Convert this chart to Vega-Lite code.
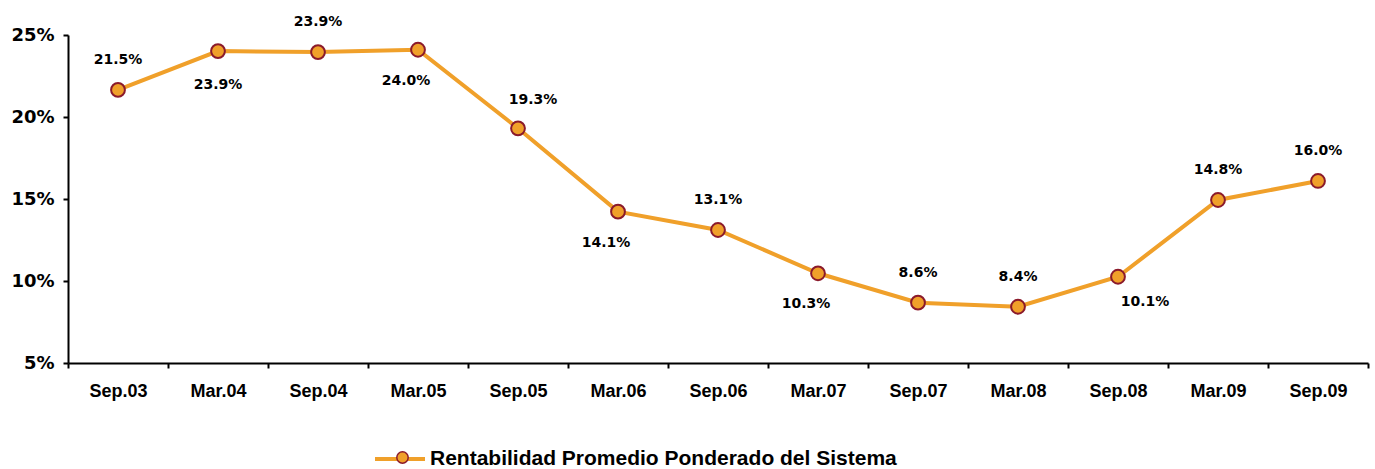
{
  "$schema": "https://vega.github.io/schema/vega-lite/v6.json",
  "width": 1300,
  "height": 328,
  "autosize": {"type": "none"},
  "padding": {"left": 68, "top": 35, "right": 7, "bottom": 106},
  "background": "white",
  "config": {
    "view": {"stroke": null},
    "axis": {"domainColor": "black", "domainWidth": 2, "tickColor": "black", "tickWidth": 2, "tickSize": 5, "grid": false, "title": null, "labelColor": "black"}
  },
  "data": {
    "values": [
      {"periodo": "Sep.03", "valor": 21.65, "etiqueta": "21.5%", "serie": "Rentabilidad Promedio Ponderado del Sistema", "marcador": "m"},
      {"periodo": "Mar.04", "valor": 24.02, "etiqueta": "23.9%", "serie": "Rentabilidad Promedio Ponderado del Sistema", "marcador": "m"},
      {"periodo": "Sep.04", "valor": 23.96, "etiqueta": "23.9%", "serie": "Rentabilidad Promedio Ponderado del Sistema", "marcador": "m"},
      {"periodo": "Mar.05", "valor": 24.1, "etiqueta": "24.0%", "serie": "Rentabilidad Promedio Ponderado del Sistema", "marcador": "m"},
      {"periodo": "Sep.05", "valor": 19.31, "etiqueta": "19.3%", "serie": "Rentabilidad Promedio Ponderado del Sistema", "marcador": "m"},
      {"periodo": "Mar.06", "valor": 14.23, "etiqueta": "14.1%", "serie": "Rentabilidad Promedio Ponderado del Sistema", "marcador": "m"},
      {"periodo": "Sep.06", "valor": 13.11, "etiqueta": "13.1%", "serie": "Rentabilidad Promedio Ponderado del Sistema", "marcador": "m"},
      {"periodo": "Mar.07", "valor": 10.47, "etiqueta": "10.3%", "serie": "Rentabilidad Promedio Ponderado del Sistema", "marcador": "m"},
      {"periodo": "Sep.07", "valor": 8.68, "etiqueta": "8.6%", "serie": "Rentabilidad Promedio Ponderado del Sistema", "marcador": "m"},
      {"periodo": "Mar.08", "valor": 8.43, "etiqueta": "8.4%", "serie": "Rentabilidad Promedio Ponderado del Sistema", "marcador": "m"},
      {"periodo": "Sep.08", "valor": 10.26, "etiqueta": "10.1%", "serie": "Rentabilidad Promedio Ponderado del Sistema", "marcador": "m"},
      {"periodo": "Mar.09", "valor": 14.94, "etiqueta": "14.8%", "serie": "Rentabilidad Promedio Ponderado del Sistema", "marcador": "m"},
      {"periodo": "Sep.09", "valor": 16.1, "etiqueta": "16.0%", "serie": "Rentabilidad Promedio Ponderado del Sistema", "marcador": "m"}
    ]
  },
  "encoding": {
    "x": {
      "field": "periodo", "type": "nominal", "sort": null,
      "scale": {"type": "band", "paddingInner": 0, "paddingOuter": 0},
      "axis": {"labelAngle": 0, "tickBand": "extent", "labelFont": "Liberation Sans", "labelFontWeight": "bold", "labelFontSize": 18, "labelPadding": 14}
    },
    "y": {
      "field": "valor", "type": "quantitative",
      "scale": {"domain": [5, 25], "nice": false, "zero": false},
      "axis": {"values": [5, 10, 15, 20, 25], "labelExpr": "datum.value + '%'", "labelFont": "DejaVu Sans", "labelFontWeight": "bold", "labelFontSize": 18, "labelPadding": 9}
    }
  },
  "layer": [
    {
      "mark": {"type": "line", "strokeWidth": 4},
      "encoding": {
        "color": {
          "field": "serie", "type": "nominal",
          "scale": {"range": ["#F0A02A"]},
          "legend": {"orient": "none", "legendX": 305, "legendY": 397, "title": null, "padding": 0, "symbolType": "stroke", "symbolStrokeWidth": 4, "symbolSize": 2500, "labelFont": "Liberation Sans", "labelFontWeight": "bold", "labelFontSize": 21, "labelColor": "black", "labelOffset": 3, "labelLimit": 700}
        }
      }
    },
    {
      "mark": {"type": "point", "filled": true, "fill": "#F0A02A", "stroke": "#8B1A2B", "strokeWidth": 2, "size": 190, "opacity": 1},
      "encoding": {
        "shape": {
          "field": "marcador", "type": "nominal",
          "scale": {"range": ["circle"]},
          "legend": {"orient": "none", "legendX": 325, "legendY": 413, "title": null, "padding": 0, "symbolSize": 130, "labelExpr": "''", "labelFontSize": 19,
            "encode": {"symbols": {"update": {"fill": {"value": "#F0A02A"}, "stroke": {"value": "#A8401E"}, "strokeWidth": {"value": 2}, "opacity": {"value": 1}}}}}
        }
      }
    },
    {
      "transform": [{"filter": {"field": "periodo", "oneOf": ["Sep.03", "Sep.04", "Sep.06", "Sep.07", "Mar.08", "Mar.09", "Sep.09"]}}],
      "mark": {"type": "text", "dy": -30, "baseline": "middle", "align": "center", "font": "DejaVu Sans", "fontWeight": "bold", "fontSize": 14, "color": "black"},
      "encoding": {"text": {"field": "etiqueta"}}
    },
    {
      "transform": [{"filter": {"field": "periodo", "oneOf": ["Sep.05"]}}],
      "mark": {"type": "text", "dy": -28, "dx": 15, "baseline": "middle", "align": "center", "font": "DejaVu Sans", "fontWeight": "bold", "fontSize": 14, "color": "black"},
      "encoding": {"text": {"field": "etiqueta"}}
    },
    {
      "transform": [{"filter": {"field": "periodo", "oneOf": ["Mar.04"]}}],
      "mark": {"type": "text", "dy": 34, "baseline": "middle", "align": "center", "font": "DejaVu Sans", "fontWeight": "bold", "fontSize": 14, "color": "black"},
      "encoding": {"text": {"field": "etiqueta"}}
    },
    {
      "transform": [{"filter": {"field": "periodo", "oneOf": ["Mar.05", "Mar.06", "Mar.07"]}}],
      "mark": {"type": "text", "dy": 31, "dx": -12, "baseline": "middle", "align": "center", "font": "DejaVu Sans", "fontWeight": "bold", "fontSize": 14, "color": "black"},
      "encoding": {"text": {"field": "etiqueta"}}
    },
    {
      "transform": [{"filter": {"field": "periodo", "oneOf": ["Sep.08"]}}],
      "mark": {"type": "text", "dy": 25, "dx": 27, "baseline": "middle", "align": "center", "font": "DejaVu Sans", "fontWeight": "bold", "fontSize": 14, "color": "black"},
      "encoding": {"text": {"field": "etiqueta"}}
    }
  ]
}
